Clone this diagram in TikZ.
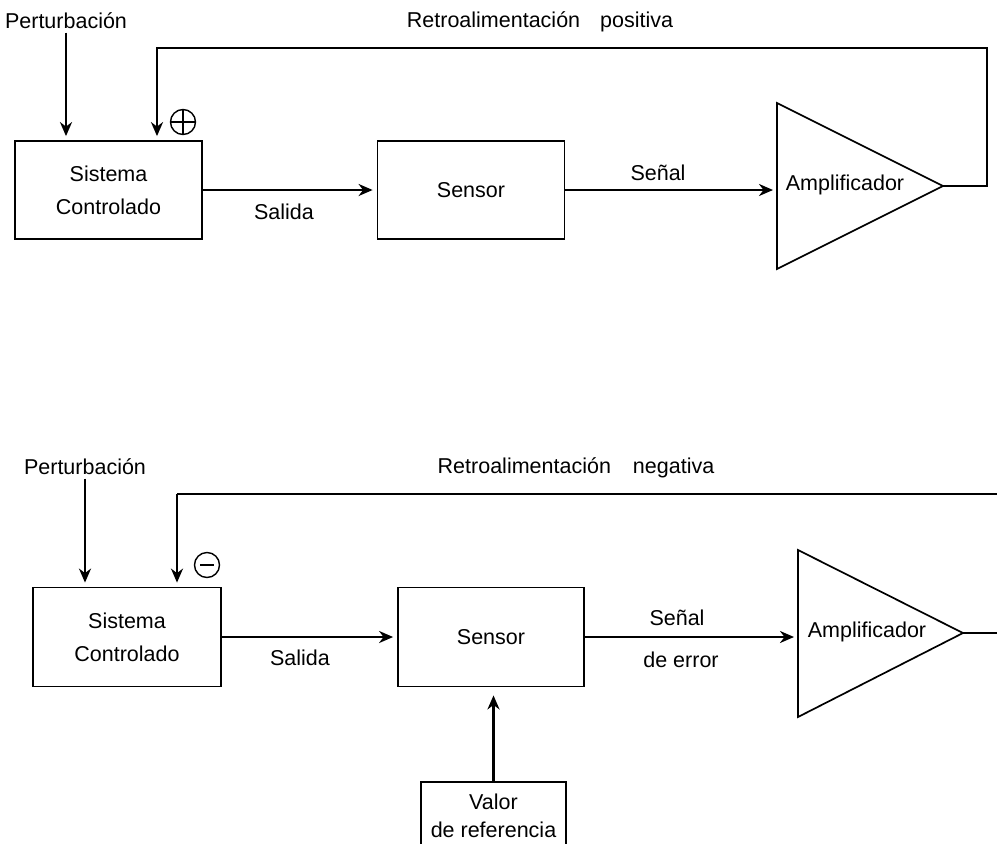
\documentclass[tikz,border=0pt]{standalone}
\usepackage{fontspec}
\setmainfont{Liberation Sans}
\usetikzlibrary{arrows.meta}

\begin{document}
\begin{tikzpicture}[x=1pt, y=-1pt,
    font=\fontsize{21.5}{33}\selectfont,
    bloque/.style={draw, line width=1.8pt, minimum width=187pt, minimum height=98pt, align=center, inner sep=0pt},
    flecha/.style={-{Stealth[length=14pt,width=12pt,inset=4.5pt]}, line width=2.8pt, shorten >=4pt},
    linea/.style={line width=2.8pt},
    triangulo/.style={line width=1.7pt, line join=miter},
    signo/.style={circle, draw, line width=1.4pt, minimum size=25pt, inner sep=0pt}]

    % Page frame
    \useasboundingbox (0,0) rectangle (997,844);
    \clip (0,0) rectangle (997,844);

    % ---------------- Upper loop: positive feedback ----------------
    \node (pert1) at (66,21) {Perturbación};
    \node[bloque] (sis1) at (108.5,190) {Sistema\\Controlado};
    \node[bloque] (sen1) at (471,190) {Sensor};

    % Amplifier triangle
    \coordinate (amp1in) at (777,190);
    \coordinate (amp1out) at (943,186);
    \draw[triangulo] (777,103) -- (amp1out) -- (777,269) -- cycle;
    \node (amp1) at (845,185) {Amplificador};

    % Labels
    \node (retro1) at (540,22) {Retroalimentación\hspace{20pt}positiva};
    \node (salida1) at (284,212) {Salida};
    \node (senal1) at (658,173) {Señal};

    % Plus sign at the summing point
    \node[signo, path picture={\draw[line width=1.4pt]
        (path picture bounding box.north) -- (path picture bounding box.south)
        (path picture bounding box.west) -- (path picture bounding box.east);}] (mas1) at (183,122) {};

    % Connectors
    \coordinate (fb1) at (157,48);
    \draw[flecha] (pert1) -- (pert1 |- sis1.north);
    \draw[flecha] (sis1.east) -- (sen1.west);
    \draw[flecha] (sen1.east) -- (amp1in);
    \draw[flecha] (amp1out) -- ++(44,0) |- (fb1) -- (fb1 |- sis1.north);

    % ---------------- Lower loop: negative feedback ----------------
    \node (pert2) at (85,467) {Perturbación};
    \node[bloque, minimum width=188pt, minimum height=99pt] (sis2) at (127,637) {Sistema\\Controlado};
    \node[bloque, minimum width=186pt, minimum height=99pt] (sen2) at (491,637) {Sensor};
    \node[bloque, minimum width=145pt, minimum height=68pt, font=\fontsize{21.5}{28}\selectfont] (valor) at (493.5,816) {Valor\\de referencia};

    % Amplifier triangle
    \coordinate (amp2in) at (798,637);
    \coordinate (amp2out) at (963,633);
    \draw[triangulo] (798,550) -- (amp2out) -- (798,717) -- cycle;
    \node (amp2) at (867,632) {Amplificador};

    % Labels
    \node (retro2) at (576,468) {Retroalimentación\hspace{22pt}negativa};
    \node (salida2) at (300,658) {Salida};
    \node (senal2) at (677,618) {Señal};
    \node (error2) at (681,660) {de error};

    % Minus sign at the summing point
    \node[signo, path picture={\draw[line width=1.4pt]
        ([xshift=-7pt]path picture bounding box.center) -- ([xshift=7pt]path picture bounding box.center);}] (menos2) at (207,565) {};

    % Connectors
    \coordinate (fb2) at (177,494);
    \draw[flecha] (pert2) -- (pert2 |- sis2.north);
    \draw[flecha] (sis2.east) -- (sen2.west);
    \draw[flecha] (sen2.east) -- (amp2in);
    \draw[flecha, shorten >=8pt] (valor.north) -- (valor.north |- sen2.south);
    \draw[linea] (amp2out) -- ++(50,0) |- (fb2);
    \draw[flecha] (fb2) -- (fb2 |- sis2.north);

\end{tikzpicture}
\end{document}
